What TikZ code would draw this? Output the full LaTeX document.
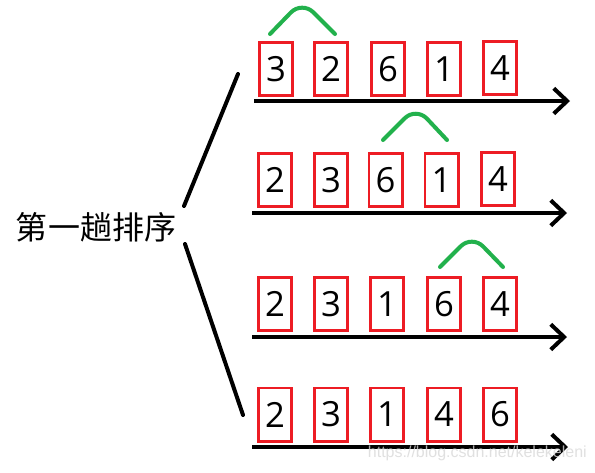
\documentclass[tikz,border=0pt]{standalone}
\usepackage{fontspec}
\setmainfont{Open Sans}
\newfontfamily\cjk{Noto Sans CJK SC}
\newfontfamily\wmfont{Liberation Sans}
\usetikzlibrary{arrows.meta}
\definecolor{pred}{HTML}{ED1C24}
\definecolor{pgreen}{HTML}{22B14C}
\begin{document}
\begin{tikzpicture}[x=0.75pt,y=-0.75pt,
  cell/.style={draw=pred,line width=2pt,minimum width=25pt,minimum height=40pt,inner sep=0pt,font=\fontsize{26}{28}\selectfont},
  axis/.style={line width=3pt,-{Straight Barb[length=10pt,width=19pt]}},
  swapline/.style={draw=pgreen,line width=3pt,line cap=round,rounded corners=12pt},
  branch/.style={line width=3pt,line cap=round}]
\useasboundingbox[fill=white] (0,0) rectangle (595,472);

% title
\node[font=\cjk\fontsize{24}{26}\selectfont,inner sep=0pt] (title) at (96,227) {第一趟排序};

% branches
\coordinate (bu1) at (184,206); \coordinate (bu2) at (238,74);
\coordinate (bl1) at (185,244); \coordinate (bl2) at (243,415);
\draw[branch] (bu1) -- (bu2);
\draw[branch] (bl1) -- (bl2);

% row 1
\node[cell] (a1) at (276,69) {3};
\node[cell] (a2) at (331,69) {2};
\node[cell] (a3) at (388,69) {6};
\node[cell] (a4) at (444,69) {1};
\node[cell] (a5) at (500,68) {4};
\coordinate (as) at (254,101); \coordinate (ae) at (570,101);
\draw[axis] (as) -- (ae);
\coordinate (g1s) at (270,34); \coordinate (g1p) at (302,1); \coordinate (g1e) at (335,34);
\draw[swapline] (g1s) -- (g1p) -- (g1e);

% row 2
\node[cell] (b1) at (275,180) {2};
\node[cell] (b2) at (331,180) {3};
\node[cell] (b3) at (385.5,180) {6};
\node[cell] (b4) at (441.5,180) {1};
\node[cell] (b5) at (498,179) {4};
\coordinate (bs) at (252,213); \coordinate (be) at (567,213);
\draw[axis] (bs) -- (be);
\coordinate (g2s) at (383,140); \coordinate (g2p) at (416,107); \coordinate (g2e) at (447,140);
\draw[swapline] (g2s) -- (g2p) -- (g2e);

% row 3
\node[cell] (c1) at (275,304) {2};
\node[cell] (c2) at (331,304) {3};
\node[cell] (c3) at (387,304) {1};
\node[cell] (c4) at (444,304) {6};
\node[cell] (c5) at (500,304) {4};
\coordinate (cs) at (252,337); \coordinate (ce) at (567,337);
\draw[axis] (cs) -- (ce);
\coordinate (g3s) at (440,267); \coordinate (g3p) at (472,235); \coordinate (g3e) at (503,267);
\draw[swapline] (g3s) -- (g3p) -- (g3e);

% row 4
\node[cell] (d1) at (275,414.5) {2};
\node[cell] (d2) at (331,414.5) {3};
\node[cell] (d3) at (387,414.5) {1};
\node[cell] (d4) at (444,414.5) {4};
\node[cell] (d5) at (500,414.5) {6};
\coordinate (ds) at (252,447); \coordinate (de) at (568,447);
\draw[axis] (ds) -- (de);

% watermark
\node[font=\wmfont\fontsize{12}{14}\selectfont,text=gray!30,text opacity=0.8,inner sep=0pt,anchor=east] (wm) at (587,453) {https://blog.csdn.net/kelekeleni};
\end{tikzpicture}
\end{document}
